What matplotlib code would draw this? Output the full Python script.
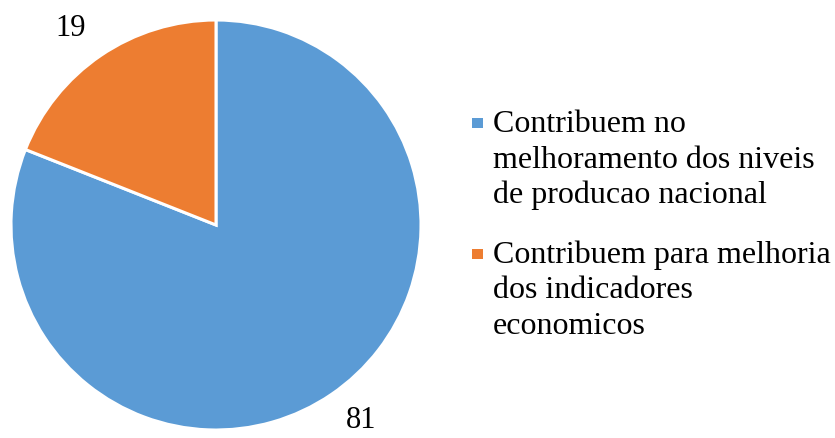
import matplotlib
matplotlib.use("Agg")
import numpy as np
import matplotlib.pyplot as plt
from matplotlib.patches import Rectangle

categories = [
    "Contribuem no\nmelhoramento dos niveis\nde producao nacional",
    "Contribuem para melhoria\ndos indicadores\neconomicos",
]
values = [81, 19]
colors = ["#5B9BD5", "#ED7D31"]

plt.rcParams["font.family"] = ["Liberation Serif", "DejaVu Serif"]

W, H = 835, 438
fig = plt.figure(figsize=(W / 100, H / 100), dpi=100)

# pie area: centre (216, 225) px, radius 205 px
cx, cy, r = 216, 225, 205
ax = fig.add_axes([(cx - r) / W, (H - cy - r) / H, 2 * r / W, 2 * r / H])
wedges, _ = ax.pie(
    values,
    colors=colors,
    startangle=90,
    counterclock=False,
    radius=1.0,
    wedgeprops=dict(edgecolor="white", linewidth=2.2),
)
ax.set_xlim(-1, 1)
ax.set_ylim(-1, 1)
ax.set_aspect("equal")
ax.axis("off")

# value labels just outside each wedge
nudges = [(4, 7), (-4, -6)]  # offset in points
for w, v, (ox, oy) in zip(wedges, values, nudges):
    mid = np.deg2rad((w.theta1 + w.theta2) / 2)
    ax.annotate(str(v), xy=(1.21 * np.cos(mid), 1.21 * np.sin(mid)),
                xytext=(ox, oy), textcoords="offset points",
                ha="center", va="center", fontsize=22, color="black",
                annotation_clip=False)

# legend drawn as marker squares with wrapped text
fs = 23
line_px = 35.5
first_baselines = [132, 263]
text_x = 493
for label, color, base in zip(categories, colors, first_baselines):
    for i, line in enumerate(label.split("\n")):
        fig.text(text_x / W, 1 - (base + i * line_px) / H, line,
                 fontsize=fs, ha="left", va="baseline", color="black")
    fig.add_artist(Rectangle((472 / W, 1 - 128 / H - (base - 132) / H), 11 / W, 10 / H,
                             transform=fig.transFigure, facecolor=color,
                             edgecolor="none"))

fig.savefig("out.png", dpi=100)
